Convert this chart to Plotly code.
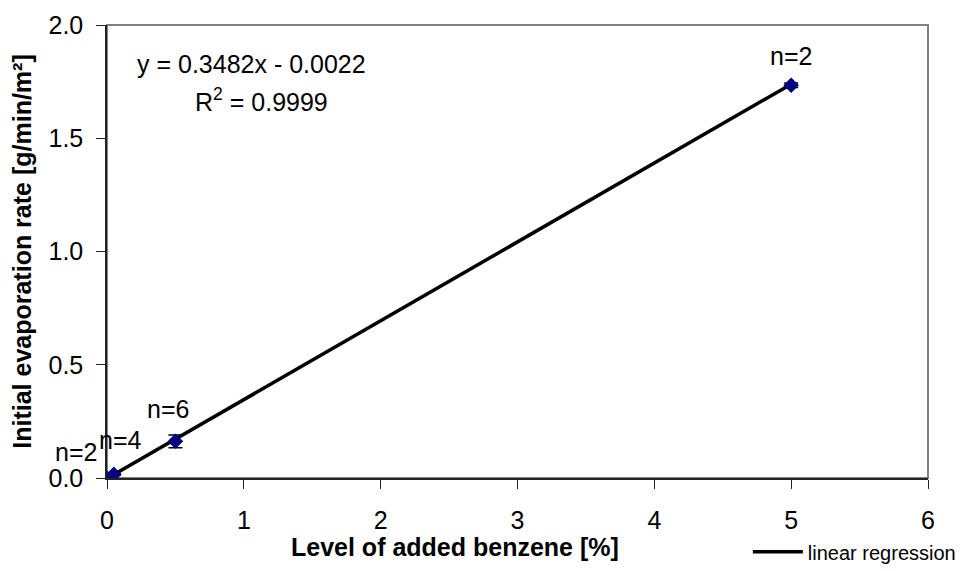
import plotly.graph_objects as go

levels = [0, 0.05, 0.5, 5]
rates = [0.0, 0.016, 0.162, 1.734]
errs = [0.0, 0.004, 0.028, 0.01]
n_labels = ["n=2", "n=4", "n=6", "n=2"]
slope = 0.3482
intercept = -0.0022
r2 = 0.9999
fit_x = [0, 5]
fit_y = [slope * v + intercept for v in fit_x]

font = "Liberation Sans, Arial, sans-serif"
FS = 25

fig = go.Figure()
fig.add_trace(go.Scatter(
    x=fit_x, y=fit_y, mode="lines", name="linear regression",
    line=dict(color="black", width=3.5), showlegend=True))
fig.add_trace(go.Scatter(
    x=levels, y=rates, mode="markers", showlegend=False,
    marker=dict(symbol="diamond", color="#000080", size=12),
    error_y=dict(type="data", array=errs, color="black", thickness=1.5, width=7)))

# n labels
offsets = [(-31, 26), (7, 34), (-7, 32), (0, 29)]
for x, y, t, (ax, ay) in zip(levels, rates, n_labels, offsets):
    fig.add_annotation(x=x, y=y, text=t, showarrow=False, xshift=ax, yshift=ay,
                       xanchor="center", yanchor="middle",
                       font=dict(family=font, size=FS, color="black"))

fig.add_annotation(xref="paper", yref="paper", x=0.1766, y=0.914,
                   xanchor="center", yanchor="middle",
                   text=f"y = {slope}x - {abs(intercept):.4f}", showarrow=False,
                   font=dict(family=font, size=FS, color="black"))
fig.add_annotation(xref="paper", yref="paper", x=0.1876, y=0.834,
                   xanchor="center", yanchor="middle",
                   text=f"R<sup>2</sup> = {r2}", showarrow=False,
                   font=dict(family=font, size=FS, color="black"))
# x-axis title (offset left, as in the reference)
fig.add_annotation(xref="paper", yref="paper", x=0.424, y=-0.152,
                   xanchor="center", yanchor="middle",
                   text="<b>Level of added benzene [%]</b>", showarrow=False,
                   font=dict(family=font, size=FS, color="black"))

fig.update_layout(
    width=957, height=563,
    margin=dict(l=99, r=37, t=17, b=93, autoexpand=False),
    plot_bgcolor="white", paper_bgcolor="white",
    font=dict(family=font, size=FS, color="black"),
    legend=dict(x=1.04, y=-0.163, xanchor="right", yanchor="middle",
                bgcolor="rgba(0,0,0,0)", font=dict(size=20), itemwidth=50),
    shapes=[dict(type="rect", xref="paper", yref="paper", x0=0, y0=0, x1=1, y1=1,
                 line=dict(color="#808080", width=2), layer="below")],
)
fig.update_xaxes(range=[0, 6], dtick=1, showgrid=False, zeroline=False, automargin=False,
                 showline=True, linecolor="#222222", linewidth=1.5,
                 ticks="outside", ticklen=9, tickcolor="#222222", ticklabelstandoff=10)
fig.update_yaxes(range=[0, 2], dtick=0.5, tickformat=".1f", showgrid=False, zeroline=False,
                 automargin=False,
                 showline=True, linecolor="#222222", linewidth=1.5,
                 ticks="outside", ticklen=9, tickcolor="#222222", ticklabelstandoff=8,
                 title=dict(text="<b>Initial evaporation rate [g/min/m²]</b>",
                            font=dict(size=FS), standoff=18))

fig.write_html("out.html")
